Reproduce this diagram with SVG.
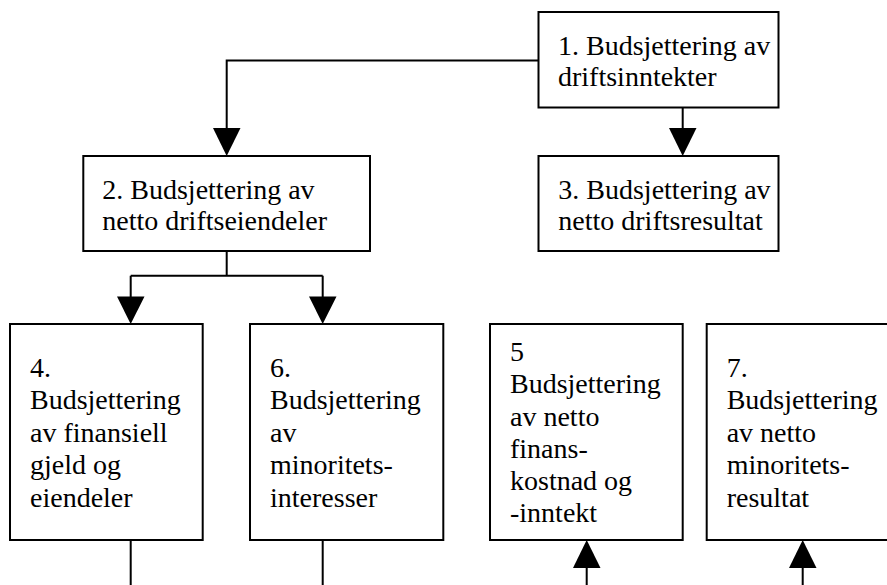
<svg xmlns="http://www.w3.org/2000/svg" width="887" height="585" viewBox="0 0 887 585">
<style>
.box{fill:#fff;stroke:#000;stroke-width:2}
.ln{fill:none;stroke:#000;stroke-width:2}
.ah{fill:#000}
.t{font-family:'Liberation Serif','Times New Roman',Times,'DejaVu Serif',serif;font-size:28px;fill:#000}
</style>
<rect width="887" height="585" fill="#fff"/>
<g id="connectors">
<path class="ln" d="M538.5 60.5 H226.7 V130"/>
<polygon class="ah" points="213,128 240.5,128 226.7,156"/>
<path class="ln" d="M682.7 107.5 V130"/>
<polygon class="ah" points="669,128 696.5,128 682.7,156"/>
<path class="ln" d="M226.7 251 V275.7 M130.7 275.7 H322.7 M130.7 275.7 V298 M322.7 275.7 V298"/>
<polygon class="ah" points="117,296.5 144.5,296.5 130.7,324"/>
<polygon class="ah" points="309,296.5 336.5,296.5 322.7,324"/>
<path class="ln" d="M130.7 540 V585 M322.7 540 V585"/>
<path class="ln" d="M586.7 566 V585 M802.7 566 V585"/>
<polygon class="ah" points="573,568 600.5,568 586.7,540"/>
<polygon class="ah" points="789,568 816.5,568 802.7,540"/>
</g>
<g id="node1" class="t" font-family="Liberation Serif, serif">
<rect class="box" x="538.5" y="12" width="240" height="95.5"/>
<text x="558" y="55">1. Budsjettering av</text>
<text x="558" y="86">driftsinntekter</text>
</g>
<g id="node2" class="t">
<rect class="box" x="83.3" y="156" width="286.7" height="95"/>
<text x="102.3" y="198.5">2. Budsjettering av</text>
<text x="102.3" y="229.5">netto driftseiendeler</text>
</g>
<g id="node3" class="t">
<rect class="box" x="538.5" y="156" width="240" height="95"/>
<text x="558.3" y="199">3. Budsjettering av</text>
<text x="558.3" y="229.5">netto driftsresultat</text>
</g>
<g id="node4" class="t">
<rect class="box" x="10" y="324" width="192.7" height="216"/>
<text x="30" y="377">4.</text>
<text x="30" y="409.3">Budsjettering</text>
<text x="30" y="441.7">av finansiell</text>
<text x="30" y="474">gjeld og</text>
<text x="30" y="506.7">eiendeler</text>
</g>
<g id="node6" class="t">
<rect class="box" x="250" y="324" width="193.3" height="216"/>
<text x="270" y="377">6.</text>
<text x="270" y="409.3">Budsjettering</text>
<text x="270" y="441.7">av</text>
<text x="270" y="474">minoritets-</text>
<text x="270" y="506.7">interesser</text>
</g>
<g id="node5" class="t">
<rect class="box" x="490" y="324" width="192.7" height="216"/>
<text x="510" y="360.5">5</text>
<text x="510" y="393">Budsjettering</text>
<text x="510" y="425.5">av netto</text>
<text x="510" y="457.7">finans-</text>
<text x="510" y="490">kostnad og</text>
<text x="510" y="522">-inntekt</text>
</g>
<g id="node7" class="t">
<rect class="box" x="706.7" y="324" width="193" height="216"/>
<text x="726.7" y="377">7.</text>
<text x="726.7" y="409.3">Budsjettering</text>
<text x="726.7" y="441.7">av netto</text>
<text x="726.7" y="474">minoritets-</text>
<text x="726.7" y="506.7">resultat</text>
</g>
</svg>
